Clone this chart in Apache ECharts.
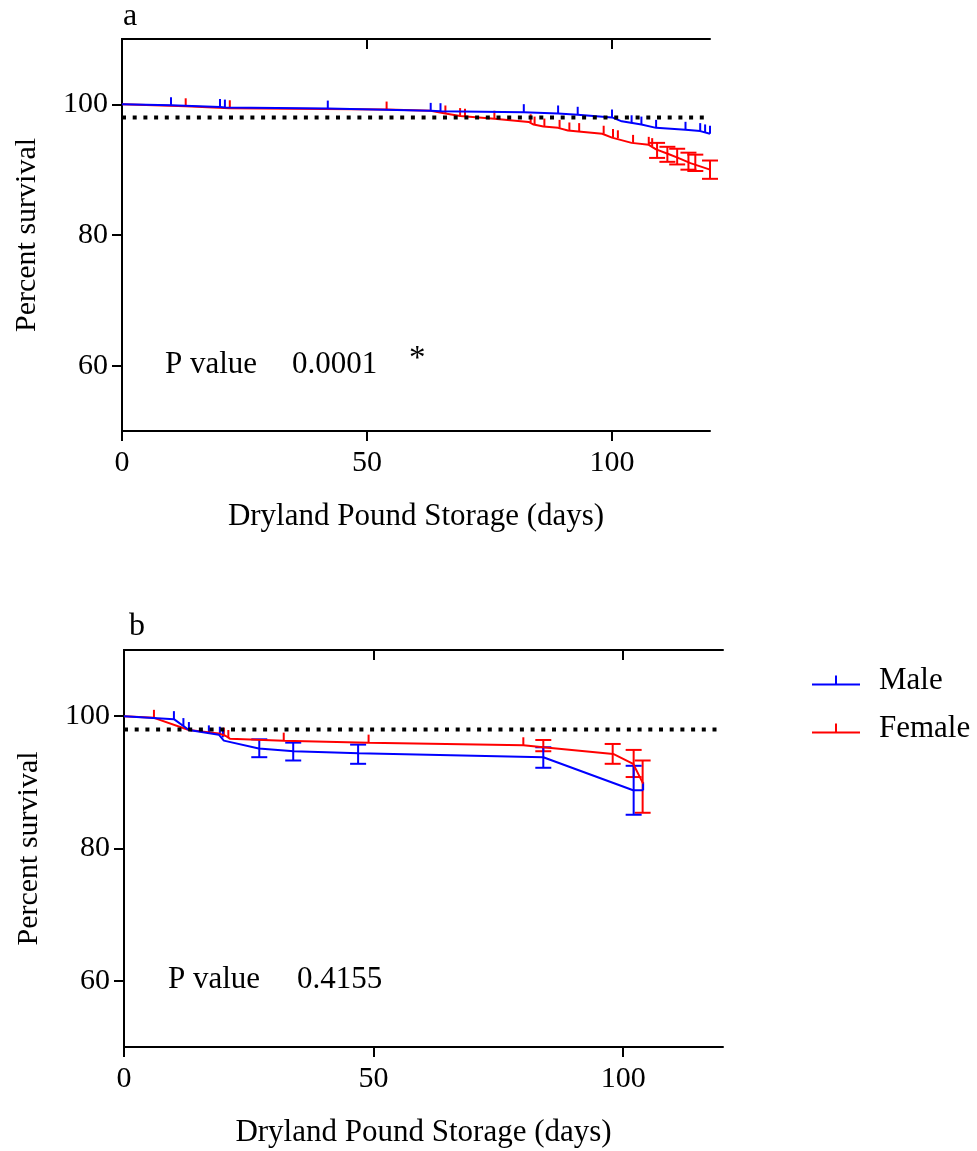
<!DOCTYPE html>
<html>
<head>
<meta charset="utf-8">
<script src="https://cdn.jsdelivr.net/npm/echarts@6/dist/echarts.min.js"></script>
<style>
  html, body { margin: 0; padding: 0; background: #fff; }
  #chart { width: 977px; height: 1151px; }
</style>
</head>
<body>
<div id="chart"></div>
<script>
// survival curves: [day, percent]
const maleA = [[0,100],[10,99.85],[20,99.6],[21,99.5],[42,99.35],[63,99.0],[65,98.95],[82,98.8],[89,98.6],[93,98.4],[100,98.0],[102,97.4],[106,96.9],[109,96.4],[115,96.1],[118,95.9],[120,95.5]]
const femaleA = [[0,100],[13,99.7],[22,99.4],[54,99.2],[63,99.0],[66,98.6],[69,98.2],[76,97.8],[83,97.3],[84,96.9],[86,96.6],[89,96.4],[91,96.0],[98,95.5],[100,94.9],[104,94.1],[107.5,93.8],[109,93.1],[111.5,92.4],[113.5,91.8],[116,91.0],[120,90.0]]
const maleCensorA = [[10,99.85],[20,99.6],[21,99.5],[42,99.35],[63,99.0],[65,98.95],[82,98.8],[89,98.6],[93,98.4],[100,98.0],[104,97.1],[106,96.9],[109,96.4],[115,96.1],[118,95.9],[119,95.7],[120,95.5]]
const femaleCensorA = [[13,99.7],[22,99.4],[54,99.2],[66,98.6],[69,98.2],[70,98.1],[76,97.8],[83.4,97.25],[84.2,96.9],[86.2,96.6],[89.3,96.4],[91.3,96.0],[93.3,95.9],[98.3,95.5],[100.2,95.0],[101.2,94.8],[104.3,94.1],[107.5,93.8],[108.2,93.6]]
// error bars: [day, low, high]
const femaleErrA = [[109.2,91.8,94.1],[111.3,91.2,93.5],[113.3,90.8,93.2],[115.6,90.0,92.6],[117,89.8,92.3],[120,88.6,91.4]]

const maleB = [[0,100],[10,99.55],[13,97.9],[19,97.2],[20,96.3],[27,95.1],[34,94.7],[47,94.4],[84,93.8],[102,88.8],[104,88.8]]
const femaleB = [[0,100],[6,99.75],[13,97.9],[19,97.4],[20.4,97.0],[21.2,96.6],[32,96.3],[49,96.0],[80,95.6],[84,95.3],[98,94.3],[102,92.8],[104,89.8]]
const maleCensorB = [[10,99.55],[11.9,98.5],[13,97.9],[17,97.4],[19.2,97.2],[19.8,96.8],[104,88.8]]
const femaleCensorB = [[6,99.75],[20,97.05],[20.9,96.7],[32,96.3],[49,96.0],[80,95.6]]
const maleErrB = [[27.1,93.8,96.5],[33.9,93.3,96.0],[46.9,92.8,95.7],[84.0,92.2,95.3],[102.1,85.1,92.5]]
const femaleErrB = [[84,94.7,96.4],[97.9,92.8,95.8],[102.1,90.8,94.9],[103.9,85.4,93.3]]

const threshold = [[0,98],[120,98]]
const xTicks = [0,50,100]
const xTopTicks = [50,100]
const yTicks = [60,80,100]

const BLUE = '#0000ff', RED = '#ff0000'
const FONT = 'Liberation Serif'

var chart = echarts.init(document.getElementById('chart'))

function xAxes(grid){
  return [
    { gridIndex:grid, type:'value', position:'bottom', min:0, max:120,
      name:'Dryland Pound Storage (days)', nameLocation:'middle', nameGap:70,
      nameTextStyle:{ fontFamily:FONT, fontSize:31, color:'#000' },
      axisLine:{ lineStyle:{ color:'#000', width:2 } },
      axisTick:{ customValues:xTicks, length:10, lineStyle:{ color:'#000', width:2 } },
      axisLabel:{ customValues:xTicks, margin:17, fontFamily:FONT, fontSize:30, color:'#000' },
      splitLine:{ show:false } },
    { gridIndex:grid, type:'value', position:'top', min:0, max:120,
      axisLine:{ lineStyle:{ color:'#000', width:2 } },
      axisTick:{ customValues:xTopTicks, inside:true, length:10, lineStyle:{ color:'#000', width:2 } },
      axisLabel:{ show:false }, splitLine:{ show:false } }
  ]
}
function yAxes(grid){
  return [
    { gridIndex:grid, type:'value', position:'left', min:50, max:110,
      name:'Percent survival', nameLocation:'middle', nameGap:80, nameRotate:90,
      nameTextStyle:{ fontFamily:FONT, fontSize:30, color:'#000' },
      axisLine:{ show:true, lineStyle:{ color:'#000', width:2 } },
      axisTick:{ show:true, customValues:yTicks, length:10, lineStyle:{ color:'#000', width:2 } },
      axisLabel:{ customValues:yTicks, margin:14, fontFamily:FONT, fontSize:30, color:'#000' },
      splitLine:{ show:false } },
    { gridIndex:grid, type:'value', position:'right', min:50, max:110,
      axisLine:{ show:true, lineStyle:{ color:'#000', width:2 } },
      axisTick:{ show:true, customValues:yTicks, inside:true, length:10, lineStyle:{ color:'#000', width:2 } },
      axisLabel:{ show:false }, splitLine:{ show:false } }
  ]
}

function curve(name, data, color, xi, yi){
  return { name:name, type:'line', xAxisIndex:xi, yAxisIndex:yi, data:data,
    symbol:'none', lineStyle:{ color:color, width:2 }, itemStyle:{ color:color } }
}
function censor(data, color, xi, yi){
  return { type:'custom', xAxisIndex:xi, yAxisIndex:yi, data:data, clip:false,
    encode:{ x:0, y:1 },
    renderItem:function(params, api){
      var p = api.coord([api.value(0), api.value(1)])
      return { type:'line', shape:{ x1:p[0], y1:p[1], x2:p[0], y2:p[1]-8 },
        style:{ stroke:color, lineWidth:2 } }
    } }
}
function errbars(data, color, xi, yi){
  return { type:'custom', xAxisIndex:xi, yAxisIndex:yi, data:data, clip:false,
    encode:{ x:0, y:[1,2] },
    renderItem:function(params, api){
      var lo = api.coord([api.value(0), api.value(1)])
      var hi = api.coord([api.value(0), api.value(2)])
      var st = { stroke:color, lineWidth:2 }
      return { type:'group', children:[
        { type:'line', shape:{ x1:lo[0], y1:lo[1], x2:hi[0], y2:hi[1] }, style:st },
        { type:'line', shape:{ x1:lo[0]-8, y1:lo[1], x2:lo[0]+8, y2:lo[1] }, style:st },
        { type:'line', shape:{ x1:hi[0]-8, y1:hi[1], x2:hi[0]+8, y2:hi[1] }, style:st }
      ] }
    } }
}
function dotted(xi, yi){
  return { type:'line', xAxisIndex:xi, yAxisIndex:yi, data:threshold, symbol:'none', z:5,
    lineStyle:{ color:'#000', width:4, type:[4,6.7] } }
}

var txt = function(x, y, s, size){
  return { type:'text', left:x, top:y, style:{ text:s, fontFamily:FONT, fontSize:size, fill:'#000' } }
}

var option = {
  animation:false,
  backgroundColor:'#fff',
  grid:[
    { left:122, top:39, width:588, height:392 },
    { left:124, top:650, width:599, height:397 }
  ],
  xAxis: xAxes(0).concat(xAxes(1)),
  yAxis: yAxes(0).concat(yAxes(1)),
  legend:{
    data:['Male','Female'], orient:'vertical', left:807, top:660, itemGap:17,
    itemWidth:48, itemHeight:10, selectedMode:false,
    icon:'path://M0,12L48,12L48,14L0,14ZM23,4L25,4L25,12L23,12Z',
    textStyle:{ fontFamily:FONT, fontSize:31, color:'#000', padding:[0,0,0,14] }
  },
  series:[
    curve('Female', femaleA, RED, 0, 0),
    censor(femaleCensorA, RED, 0, 0),
    errbars(femaleErrA, RED, 0, 0),
    curve('Male', maleA, BLUE, 0, 0),
    censor(maleCensorA, BLUE, 0, 0),
    dotted(0, 0),
    curve('Female', femaleB, RED, 2, 2),
    censor(femaleCensorB, RED, 2, 2),
    errbars(femaleErrB, RED, 2, 2),
    curve('Male', maleB, BLUE, 2, 2),
    censor(maleCensorB, BLUE, 2, 2),
    errbars(maleErrB, BLUE, 2, 2),
    dotted(2, 2)
  ],
  graphic:[
    txt(123, 1, 'a', 32),
    txt(129, 611, 'b', 32),
    txt(165, 349, 'P value', 31),
    txt(292, 349, '0.0001', 31),
    txt(409, 343, '*', 33),
    txt(168, 964, 'P value', 31),
    txt(297, 964, '0.4155', 31)
  ]
}
chart.setOption(option)
</script>
</body>
</html>
